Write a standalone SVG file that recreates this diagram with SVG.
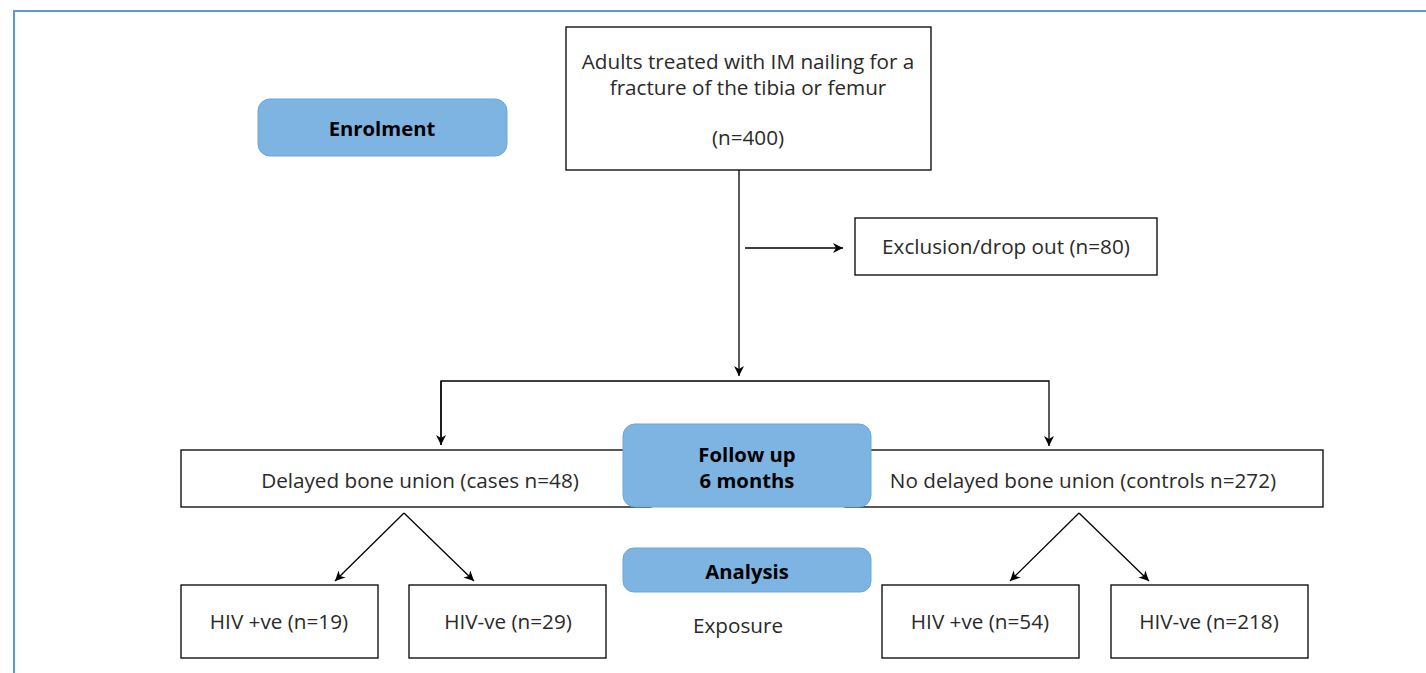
<svg xmlns="http://www.w3.org/2000/svg" width="1426" height="673" viewBox="0 0 1426 673">
<style>
.box{fill:#fff;stroke:#000;stroke-width:1.3}
.blue{fill:#7EB4E2;stroke:#6AA6DA;stroke-width:1}
.t{font-family:"Open Sans","Noto Sans",sans-serif;font-size:20.7px;fill:#2a2a2a;text-anchor:middle}
.b{font-family:"Open Sans","Noto Sans",sans-serif;font-size:20.3px;font-weight:bold;fill:#000;text-anchor:middle}
.c{fill:none;stroke:#000;stroke-width:1.3}
</style>
<defs>
<marker id="ah" viewBox="0 0 10 10" refX="10" refY="5" markerWidth="10" markerHeight="10" markerUnits="userSpaceOnUse" orient="auto">
<path d="M0,0 L10,5 L0,10 L3,5 z" fill="#000"/>
</marker>
</defs>
<rect width="1426" height="673" fill="#fff"/>
<path d="M14,673 V11 H1426" fill="none" stroke="#5B9BD5" stroke-width="2"/>
<g id="connectors">
<line class="c" x1="739" y1="170" x2="739" y2="376" marker-end="url(#ah)"/>
<line class="c" x1="745" y1="248" x2="843" y2="248" marker-end="url(#ah)"/>
<path class="c" d="M441,445 V381 H1049 V446" marker-end="url(#ah)"/>
<line class="c" x1="441" y1="381" x2="441" y2="445" marker-end="url(#ah)"/>
<line class="c" x1="404" y1="513" x2="335" y2="581" marker-end="url(#ah)"/>
<line class="c" x1="404" y1="513" x2="474" y2="581" marker-end="url(#ah)"/>
<line class="c" x1="1079" y1="513" x2="1010" y2="581" marker-end="url(#ah)"/>
<line class="c" x1="1079" y1="513" x2="1149" y2="581" marker-end="url(#ah)"/>
</g>
<g id="enrolment"><rect class="blue" x="258" y="99" width="249" height="57" rx="12"/><text class="b" x="382" y="136">Enrolment</text></g>
<g id="adults"><rect class="box" x="566" y="27" width="365" height="143"/>
<text class="t" x="748" y="69">Adults treated with IM nailing for a</text>
<text class="t" x="748" y="95">fracture of the tibia or femur</text>
<text class="t" x="748" y="145">(n=400)</text></g>
<g id="exclusion"><rect class="box" x="855" y="218" width="302" height="57"/><text class="t" x="1006" y="254">Exclusion/drop out (n=80)</text></g>
<g id="cases"><rect class="box" x="181" y="450" width="470" height="57"/><text class="t" x="420" y="488">Delayed bone union (cases n=48)</text></g>
<g id="controls"><rect class="box" x="845" y="450" width="478" height="57"/><text class="t" x="1083" y="488">No delayed bone union (controls n=272)</text></g>
<g id="followup"><rect class="blue" x="623" y="424" width="248" height="83" rx="12"/>
<text class="b" x="747" y="462">Follow up</text><text class="b" x="747" y="488">6 months</text></g>
<g id="analysis"><rect class="blue" x="623" y="548" width="248" height="44" rx="11"/><text class="b" x="747" y="579">Analysis</text></g>
<g id="exposure"><text class="t" x="738" y="633">Exposure</text></g>
<g id="hivpos1"><rect class="box" x="181" y="585" width="197" height="73"/><text class="t" x="279" y="629">HIV +ve (n=19)</text></g>
<g id="hivneg1"><rect class="box" x="409" y="585" width="197" height="73"/><text class="t" x="508" y="629">HIV-ve (n=29)</text></g>
<g id="hivpos2"><rect class="box" x="882" y="585" width="197" height="73"/><text class="t" x="980" y="629">HIV +ve (n=54)</text></g>
<g id="hivneg2"><rect class="box" x="1111" y="585" width="197" height="73"/><text class="t" x="1209" y="629">HIV-ve (n=218)</text></g>
</svg>
